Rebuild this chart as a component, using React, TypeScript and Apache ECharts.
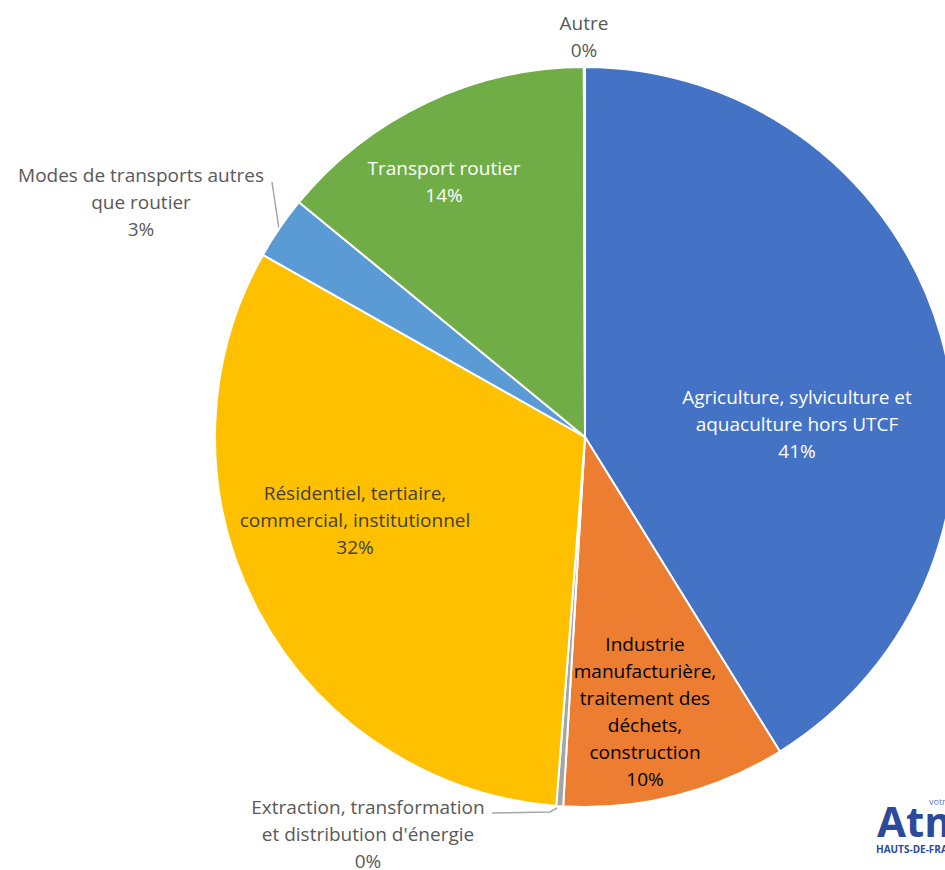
import React, { useEffect, useRef } from "react";
import * as echarts from "echarts";

const categories = [
  "Agriculture, sylviculture et\naquaculture hors UTCF",
  "Industrie\nmanufacturière,\ntraitement des\ndéchets,\nconstruction",
  "Extraction, transformation\net distribution d'énergie",
  "Résidentiel, tertiaire,\ncommercial, institutionnel",
  "Modes de transports autres\nque routier",
  "Transport routier",
  "Autre",
];
const values = [41.17, 9.77, 0.3, 31.95, 2.75, 14.01, 0.05];
const colors = ["#4472C4", "#ED7D31", "#A5A5A5", "#FFC000", "#5B9BD5", "#70AD47", "#264478"];
const labelColors = ["#FFFFFF", "#000000", "#595959", "#404040", "#595959", "#FFFFFF", "#595959"];
const labelPos = [
  [797, 424],
  [645, 711],
  [368, 834],
  [355, 520],
  [141, 202],
  [444, 181],
  [584, 36],
];
const leaderLines: Record<number, number[][]> = {
  2: [[557, 808], [550, 812], [492, 813]],
  4: [[279, 229], [272, 182]],
};

export default function App() {
  const ref = useRef<HTMLDivElement>(null);
  useEffect(() => {
    document.body.style.margin = "0";
    const chart = echarts.init(ref.current!, null, { renderer: "svg" });
    chart.setOption({
      animation: false,
      backgroundColor: "#FFFFFF",
      series: [
        {
          type: "pie",
          center: [585, 437],
          radius: 370,
          startAngle: 90,
          clockwise: true,
          avoidLabelOverlap: false,
          minShowLabelAngle: 0,
          itemStyle: { borderColor: "#FFFFFF", borderWidth: 2 },
          data: categories.map((name, i) => ({
            name,
            value: values[i],
            itemStyle: { color: colors[i] },
            label: { color: labelColors[i] },
            labelLine: { show: !!leaderLines[i] },
          })),
          label: {
            show: true,
            position: "outside",
            fontFamily: "Open Sans",
            fontSize: 19,
            lineHeight: 27,
            align: "center",
            formatter: (p: any) => `${p.name}\n${Math.round(p.percent)}%`,
          },
          labelLine: {
            show: false,
            lineStyle: { color: "#A6A6A6", width: 1.5 },
          },
          labelLayout: (params: any) => {
            const i = params.dataIndex;
            const out: any = {
              x: labelPos[i][0],
              y: labelPos[i][1],
              align: "center",
              verticalAlign: "middle",
              hideOverlap: false,
              moveOverlap: false,
            };
            if (leaderLines[i]) out.labelLinePoints = leaderLines[i];
            return out;
          },
        },
      ],
      graphic: [
        {
          type: "text",
          left: 929,
          top: 797,
          style: { text: "votre air", font: "9px 'Open Sans'", fill: "#5A7BC0" },
        },
        {
          type: "text",
          left: 877,
          top: 799,
          style: { text: "Atmo", font: "bold 42px 'Open Sans'", lineHeight: 36, fill: "#2D4A9A" },
        },
        {
          type: "text",
          left: 876,
          top: 844,
          style: { text: "HAUTS-DE-FRANCE", font: "bold 10px 'Open Sans'", fill: "#2D4A9A" },
        },
      ],
    });
    return () => chart.dispose();
  }, []);
  return (
    <div
      ref={ref}
      style={{ position: "absolute", left: 0, top: 0, width: 945, height: 870 }}
    />
  );
}
